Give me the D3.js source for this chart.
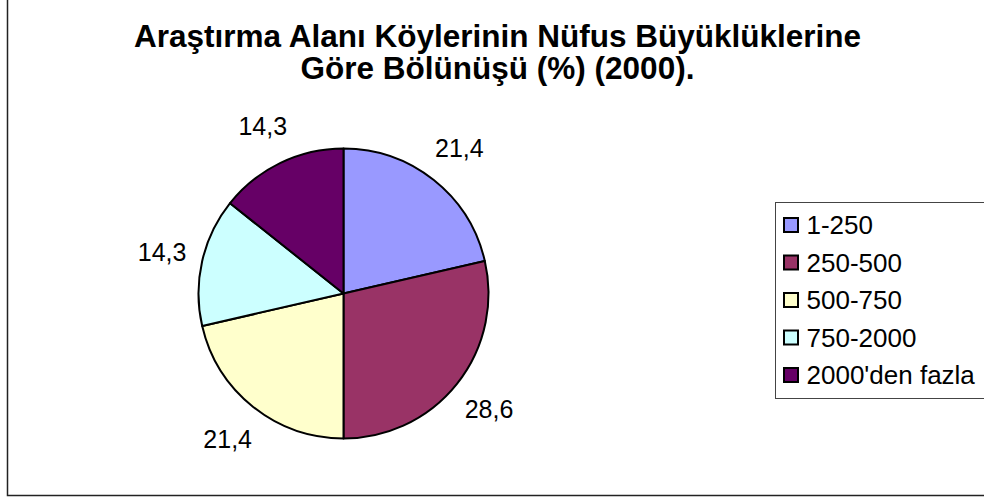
<!DOCTYPE html>
<html lang="en">

<head>
    <meta charset="utf-8" />
    <script src="https://d3js.org/d3.v7.min.js"></script>
    <style type="text/css">
        body {
            margin: 0;
            background: #fff;
        }

        text {
            font-family: "Liberation Sans", Arial, sans-serif;
            fill: #000;
        }
    </style>
</head>

<body>
    <div class="viz-box"></div>
    <script type="text/javascript">
        // data
        var categories = ["1-250", "250-500", "500-750", "750-2000", "2000'den fazla"];
        var values = [21.4, 28.6, 21.4, 14.3, 14.3];
        var valueLabels = ["21,4", "28,6", "21,4", "14,3", "14,3"];
        var colors = ["#9999ff", "#993366", "#ffffcc", "#ccffff", "#660066"];
        var titleLines = ["Araştırma Alanı Köylerinin Nüfus Büyüklüklerine", "Göre Bölünüşü (%) (2000)."];

        let width = 984, height = 497;

        var svg = d3.select("div.viz-box")
            .append('svg')
            .attr('width', width)
            .attr('height', height);

        // chart frame (clipped at top and right like the original)
        svg.append('rect')
            .attr('x', 7.5)
            .attr('y', -10)
            .attr('width', 1000)
            .attr('height', 505.5)
            .attr('fill', 'none')
            .attr('stroke', '#222')
            .attr('stroke-width', 1.5);

        svg.selectAll('text.title')
            .data(titleLines)
            .enter()
            .append('text')
            .attr('class', 'title')
            .attr('x', 497.5)
            .attr('y', function (d, i) { return 46.5 + i * 32.5; })
            .attr('text-anchor', 'middle')
            .style('font-size', '31.5px')
            .style('font-weight', 'bold')
            .text(function (d) { return d; });

        let cx = 343.5, cy = 293.5, radius = 145;

        var pie = d3.pie()
            .sort(null)
            .value(function (d) { return d; });

        var arc = d3.arc()
            .innerRadius(0)
            .outerRadius(radius);

        var labelArc = d3.arc()
            .innerRadius(186)
            .outerRadius(186);

        var g = svg.append('g')
            .attr('transform', 'translate(' + cx + ',' + cy + ')');

        var slices = pie(values);

        g.selectAll('path')
            .data(slices)
            .enter()
            .append('path')
            .attr('d', arc)
            .attr('fill', function (d, i) { return colors[i]; })
            .attr('stroke', '#000')
            .attr('stroke-width', 2)
            .attr('stroke-linejoin', 'round');

        g.selectAll('text.lbl')
            .data(slices)
            .enter()
            .append('text')
            .attr('class', 'lbl')
            .attr('transform', function (d) { return 'translate(' + labelArc.centroid(d) + ')'; })
            .attr('text-anchor', 'middle')
            .attr('dy', '0.36em')
            .style('font-size', '25px')
            .text(function (d, i) { return valueLabels[i]; });

        // legend
        var legend = svg.append('g')
            .attr('transform', 'translate(775.5,202.5)');

        legend.append('rect')
            .attr('width', 230)
            .attr('height', 196)
            .attr('fill', '#fff')
            .attr('stroke', '#444')
            .attr('stroke-width', 1);

        var rowY = d3.scalePoint()
            .domain(categories)
            .range([22.5, 172.5]);

        var items = legend.selectAll('g.item')
            .data(categories)
            .enter()
            .append('g')
            .attr('class', 'item')
            .attr('transform', function (d) { return 'translate(0,' + rowY(d) + ')'; });

        items.append('rect')
            .attr('x', 8.5)
            .attr('y', -7)
            .attr('width', 14)
            .attr('height', 14)
            .attr('fill', function (d, i) { return colors[i]; })
            .attr('stroke', '#000')
            .attr('stroke-width', 2);

        items.append('text')
            .attr('x', 31)
            .attr('dy', '0.36em')
            .style('font-size', '26px')
            .text(function (d) { return d; });
    </script>
</body>

</html>
